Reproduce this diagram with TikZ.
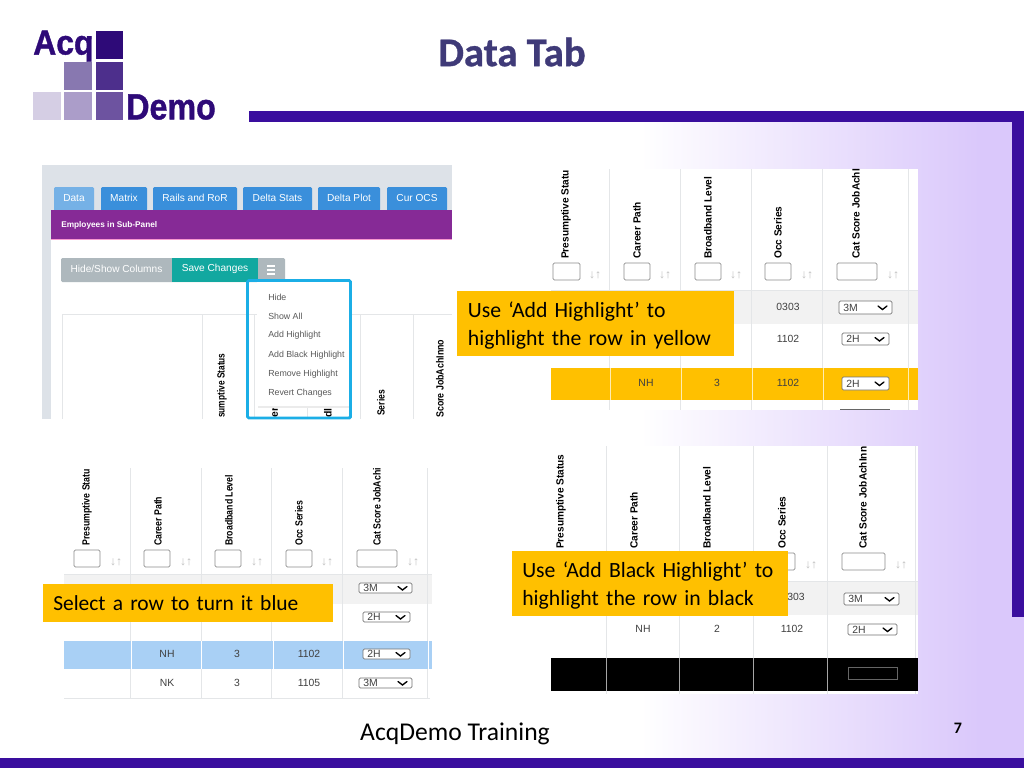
\documentclass[tikz,border=0pt]{standalone}
\usepackage{fontspec}
\setmainfont{Carlito}
\newfontfamily\uifont{Liberation Sans}
\newfontfamily\heavyfont{Liberation Sans Bold}[FakeBold=1.2]
\newfontfamily\titlefont{Carlito Bold}[FakeBold=0.8]
\usetikzlibrary{positioning}
\definecolor{barpurple}{HTML}{3A0E9E}
\definecolor{bgend}{HTML}{DAC8FB}
\definecolor{titleink}{HTML}{3F3A78}
\definecolor{logodark}{HTML}{2E0A78}
\definecolor{logomid}{HTML}{8878B0}
\definecolor{capfill}{HTML}{FFC000}
\definecolor{tabblue}{HTML}{3A8FDB}
\definecolor{rowline}{HTML}{E4E6E8}
\definecolor{shotgray}{HTML}{DDE2E8}
\definecolor{panelpurple}{HTML}{862A96}
\definecolor{saveteal}{HTML}{12A8A0}
\definecolor{hidegray}{HTML}{AEB8BD}
\definecolor{menucyan}{HTML}{1BAEE6}
\definecolor{rowblue}{HTML}{A9D0F5}
\tikzset{
	caption/.style={fill=capfill, anchor=north west, align=left, inner sep=0pt, font=\fontsize{16.3}{21}\selectfont},
	shot/.style={fill=white, draw=none},
	tab/.style={fill=tabblue, rounded corners=1pt},
	tabtext/.style={text=white, font=\uifont\fontsize{7.6}{9}\selectfont},
	menuitem/.style={anchor=west, text=black!65, inner sep=0pt, font=\uifont\fontsize{6.6}{8}\selectfont},
	headlabel/.style={rotate=90, anchor=west, inner sep=0pt, font=\uifont\bfseries\fontsize{7.8}{9}\selectfont},
	filterbox/.style={draw=black!45, fill=white, rounded corners=1pt, line width=0.5pt},
	sortmark/.style={text=black!25, inner sep=0pt, font=\uifont\bfseries\fontsize{9}{10}\selectfont},
	celltext/.style={text=black!75, inner sep=0pt, font=\uifont\fontsize{7.8}{9}\selectfont},
	logotext/.style={text=logodark, inner sep=0pt, anchor=south west, font=\heavyfont\fontsize{26}{28}\selectfont}
}
% Header labels of a table
\newcommand{\headlabels}[4]{
	\foreach \lx/\ltext in {#4}
		\node[headlabel] (#1h\lx) at (\lx,#2) {\scalebox{#3}[1]{\ltext}};
}
% Filter boxes and sort marks of a table
\newcommand{\filterrow}[3]{
	\foreach \fa/\fb/\ax in {#3} {
		\draw[filterbox] (\fa,#2+4) rectangle (\fb,#2+21);
		\node[sortmark] (#1s\ax) at (\ax,#2+16) {↓↑};
	}
}
% Drop-down of a table cell
\newcommand{\selectbox}[6]{
	\draw[draw=black!55, fill=white, rounded corners=1pt, line width=0.5pt] (#2,#3) rectangle (#4,#5);
	\node[celltext, anchor=west] (#1) at (#2+4,#3/2+#5/2) {#6};
	\draw[line width=1pt, line cap=round] (#4-14,#3/2+#5/2-1.5) -- (#4-9.5,#3/2+#5/2+2) -- (#4-5,#3/2+#5/2-1.5);
}
\begin{document}
\begin{tikzpicture}[x=0.75pt,y=-0.75pt]
	\useasboundingbox (0,0) rectangle (1024,768);
	% Slide background and bars
	\shade[left color=white, right color=bgend] (640,122) rectangle (980,758);
	\fill[bgend] (980,122) rectangle (1024,758);
	\fill[barpurple] (249,111) rectangle (1024,122);
	\fill[barpurple] (1012,111) rectangle (1024,617);
	\fill[barpurple] (0,758) rectangle (1024,768);
	\node[text=titleink, font=\titlefont\fontsize{30.5}{34}\selectfont] (title) at (512,52) {Data Tab};

	% Logo
	\fill[logodark] (96,31) rectangle (123,59);
	\fill[logomid] (64,62) rectangle (92,90);
	\fill[logodark!85!white] (96,62) rectangle (123,90);
	\fill[logodark!20!white] (33,92) rectangle (61,120);
	\fill[logodark!40!white] (64,92) rectangle (92,120);
	\fill[logodark!70!white] (96,92) rectangle (123,120);
	\node[logotext] (acq) at (33,62) {\scalebox{0.92}[1]{Acq}};
	\node[logotext] (demo) at (126,120) {\scalebox{0.93}[1.05]{Demo}};

	% First screenshot
	\fill[shotgray] (42,165) rectangle (452,419);
	\fill[white] (51,239) rectangle (452,419);
	\foreach \ta/\tb/\ttext in {101/147/Matrix, 153/237/Rails and RoR, 243/312/Delta Stats, 318/380/Delta Plot, 387/447/Cur OCS} {
		\fill[tab] (\ta,187) rectangle (\tb,211);
		\node[tabtext] (tab\ta) at (\ta/2+\tb/2,198) {\ttext};
	}
	\fill[tabblue!70!white, rounded corners=1pt] (54,187) rectangle (94,211);
	\node[tabtext] (tabdata) at (74,198) {Data};
	\fill[panelpurple] (51,210) rectangle (452,239);
	\draw[magenta!40!white] (51,239) -- (452,239);
	\node[anchor=west, text=white, inner sep=0pt, font=\uifont\bfseries\fontsize{6.2}{8}\selectfont] (panel) at (61,225) {Employees in Sub-Panel};
	\fill[hidegray, rounded corners=1pt] (61,258) rectangle (285,282);
	\fill[saveteal] (172,258) rectangle (258,282);
	\node[tabtext] (hideshow) at (116.5,269) {Hide/Show Columns};
	\node[tabtext] (save) at (215,269) {Save Changes};
	\foreach \y in {266,270,274}
		\draw[white, line width=1pt] (267,\y) -- (275,\y);
	\draw[rowline] (452,314) -- (62,314) -- (62,419);
	\foreach \x in {202,254,307,360,413}
		\draw[rowline] (\x,314) -- (\x,419);
	\node[headlabel] (hstatus) at (222,418) {\scalebox{0.8}[1]{sumptive Status}};
	\node[headlabel] (her) at (275,418) {er};
	\node[headlabel] (hdl) at (328,418) {dl};
	\node[headlabel] (hseries) at (381,416) {\scalebox{0.82}[1]{Series}};
	\node[headlabel] (hscore) at (440,418) {\scalebox{0.85}[1]{Score JobAchInno}};
	\fill[black!8] (258,284) rectangle (350,408);
	\fill[white] (257,282) rectangle (349,406);
	\foreach \y/\mtext in {297/Hide, 316/Show All, 335/Add Highlight, 355/Add Black Highlight, 374/Remove Highlight, 393/Revert Changes}
		\node[menuitem] (menu\y) at (268,\y) {\mtext};
	\draw[draw=menucyan, line width=2.2pt, rounded corners=1pt] (247.5,280.5) rectangle (350.5,418);

	% Second screenshot, yellow row
	\fill[shot] (551,169) rectangle (918,410);
	\fill[black!5] (551,291) rectangle (918,324);
	\foreach \x in {609,680,751,822,908}
		\draw[rowline] (\x,169) -- (\x,410);
	\draw[rowline] (551,290) -- (918,290);
	\headlabels{b}{259}{0.97}{566/Presumptive Statu, 637/Career Path, 708/Broadband Level, 778/Occ Series, 856/Cat Score JobAchI}
	\filterrow{b}{259}{553/580/595, 624/650/665, 695/721/736, 765/791/807, 837/877/893}
	\node[celltext] (b0303) at (788,307) {0303};
	\node[celltext] (b1102) at (788,339) {1102};
	\selectbox{bsa}{839}{301}{892}{314}{3M}
	\selectbox{bsb}{842}{333}{889}{345}{2H}
	\fill[capfill] (551,368) rectangle (918,400);
	\foreach \x in {610,681,752,823,908}
		\draw[white!70!capfill] (\x,368) -- (\x,400);
	\node[celltext] (bnh) at (646,383) {NH};
	\node[celltext] (bthree) at (717,383) {3};
	\node[celltext] (bnum) at (788,383) {1102};
	\selectbox{bsc}{842}{377}{889}{390}{2H}
	\draw[black!60] (840,409.5) -- (890,409.5);

	% Third screenshot, blue row
	\fill[shot] (64,468) rectangle (432,699);
	\fill[black!5] (64,575) rectangle (432,604);
	\foreach \x in {130,201,271,342,427}
		\draw[rowline] (\x,468) -- (\x,698);
	\draw[rowline] (64,574) -- (432,574);
	\draw[rowline] (64,698) -- (430,698);
	\headlabels{c}{546}{0.84}{87/Presumptive Statu, 158/Career Path, 229/Broadband Level, 299/Occ Series, 377/Cat Score JobAchi}
	\filterrow{c}{546}{74/100/116, 144/170/186, 215/241/257, 286/312/327, 357/397/413}
	\selectbox{csa}{359}{583}{412}{593}{3M}
	\selectbox{csb}{363}{612}{410}{622}{2H}
	\fill[rowblue] (64,641) rectangle (432,669);
	\foreach \x in {131,201,273,343,428}
		\draw[white] (\x,641) -- (\x,669);
	\node[celltext] (cnh) at (167,654) {NH};
	\node[celltext] (cthree) at (237,654) {3};
	\node[celltext] (cnum) at (309,654) {1102};
	\selectbox{csc}{363}{649}{410}{659}{2H}
	\node[celltext] (cnk) at (167,683) {NK};
	\node[celltext] (cfour) at (237,683) {3};
	\node[celltext] (cnumb) at (309,683) {1105};
	\selectbox{csd}{359}{678}{412}{688}{3M}

	% Fourth screenshot, black row
	\fill[shot] (551,446) rectangle (918,694);
	\fill[black!5] (551,581) rectangle (918,615);
	\foreach \x in {606,679,753,827,915}
		\draw[rowline] (\x,446) -- (\x,694);
	\draw[rowline] (551,581) -- (918,581);
	\headlabels{d}{549}{0.97}{561/Presumptive Status, 634/Career Path, 707/Broadband Level, 782/Occ Series, 863/Cat Score JobAchInn}
	\filterrow{d}{549}{769/795/811, 842/885/901}
	\node[celltext] (d0303) at (796,597) {303};
	\selectbox{dsa}{844}{593}{899}{605}{3M}
	\node[celltext] (dnh) at (643,629) {NH};
	\node[celltext] (dtwo) at (717,629) {2};
	\node[celltext] (dnum) at (792,629) {1102};
	\selectbox{dsb}{848}{624}{897}{635}{2H}
	\fill[black] (551,658) rectangle (918,691);
	\foreach \x in {606,679,753,827}
		\draw[black!35] (\x,658) -- (\x,691);
	\draw[black!60, line width=0.6pt] (848,667) rectangle (897,679);

	% Captions
	\node[caption, minimum width=207.75pt, minimum height=48.75pt, text width=191.75pt, inner xsep=8pt] (capyellow) at (457,291) {\rule{0pt}{14.5pt}Use ‘Add Highlight’ to\\highlight the row in yellow};
	\node[caption, minimum width=217.5pt, minimum height=28.5pt, text width=202.5pt, inner xsep=7.5pt, font=\fontsize{16.1}{21}\selectfont] (capblue) at (43,584) {Select a row to turn it blue};
	\node[caption, minimum width=207pt, minimum height=48.75pt, text width=192pt, inner xsep=7.5pt] (capblack) at (512,551) {\rule{0pt}{14.5pt}Use ‘Add Black Highlight’ to\\highlight the row in black};

	% Footer
	\node[font=\fontsize{19.2}{23}\selectfont] (footer) at (455,734) {AcqDemo Training};
	\node[font=\bfseries\fontsize{12}{14}\selectfont] (pagenum) at (958,728) {7};
\end{tikzpicture}
\end{document}
